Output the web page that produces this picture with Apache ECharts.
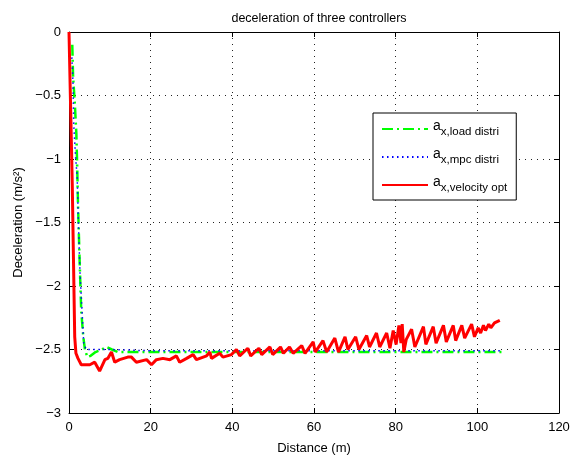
<!DOCTYPE html>
<html>
<head>
<meta charset="utf-8">
<script src="https://cdn.jsdelivr.net/npm/echarts@6/dist/echarts.min.js"></script>
<style>
  html, body { margin: 0; padding: 0; background: #fff; }
  #chart { width: 574px; height: 460px; }
</style>
</head>
<body>
<div id="chart"></div>
<script>
// distance (m) / deceleration (m/s^2)
var distLoad = [0.8, 1.0, 1.4, 1.8, 2.0, 2.2, 2.6, 3.0, 3.5, 3.9, 4.5, 5.3, 6.5, 8.0, 9.2, 10.5, 12.0, 20, 30, 40, 50, 60, 70, 80, 90, 100, 106];
var accLoad = [-0.1, -0.35, -0.55, -0.8, -1.05, -1.35, -1.8, -2.2, -2.4, -2.5, -2.56, -2.55, -2.52, -2.5, -2.48, -2.5, -2.52, -2.52, -2.52, -2.52, -2.52, -2.52, -2.52, -2.52, -2.52, -2.52, -2.52];

var distMpc = [0.7, 1.0, 1.15, 1.6, 2.0, 2.3, 2.7, 3.2, 3.6, 4.2, 6, 10, 20, 30, 40, 50, 60, 70, 80, 90, 100, 106];
var accMpc = [-0.2, -0.41, -0.72, -0.98, -1.14, -1.5, -1.9, -2.2, -2.45, -2.5, -2.5, -2.5, -2.51, -2.51, -2.51, -2.51, -2.51, -2.51, -2.51, -2.51, -2.51, -2.51];

var distVel = [0, 0.4, 0.8, 1.1, 1.4, 1.7, 2.2, 3.0, 4.0, 5.1, 6.3, 7.5, 8.8, 9.5, 10.4, 11.2, 12.4, 14.4, 15.3, 16.5,
  19.0, 20.2, 21.4, 23.0, 24.7, 26.3, 27.1, 28.8, 30.4, 31.2, 33.7, 34.5, 34.9, 36.9, 37.7, 39.8, 41.0, 41.8, 43.8, 44.5,
  46.5, 47.2, 49.2, 49.9, 51.8, 52.5, 54.0, 54.9, 57.0, 57.8, 59.8, 60.3, 62.2, 63.1, 65.1, 66.0, 67.6, 68.3, 70.2, 71.0,
  72.9, 73.6, 75.3, 76.1, 77.8, 78.6, 79.4, 80.1, 80.8, 81.3, 81.6, 82.0, 82.6, 83.9, 84.7, 86.8, 87.4, 89.2, 89.9, 91.7,
  92.4, 94.1, 94.7, 96.2, 96.9, 98.6, 99.3, 100.2, 100.8, 101.5, 102.0, 102.8, 103.3, 104.2, 105.5];
var accVel = [0, -0.6, -1.2, -1.8, -2.4, -2.53, -2.57, -2.62, -2.62, -2.62, -2.6, -2.67, -2.58, -2.57, -2.52, -2.6, -2.58, -2.56, -2.56, -2.6,
  -2.58, -2.62, -2.58, -2.57, -2.58, -2.55, -2.6, -2.57, -2.54, -2.58, -2.55, -2.52, -2.57, -2.53, -2.56, -2.54, -2.5, -2.55, -2.49, -2.55,
  -2.49, -2.54, -2.48, -2.54, -2.48, -2.53, -2.48, -2.53, -2.47, -2.53, -2.44, -2.52, -2.43, -2.52, -2.41, -2.52, -2.40, -2.50, -2.40, -2.50,
  -2.39, -2.48, -2.37, -2.48, -2.37, -2.49, -2.35, -2.46, -2.31, -2.45, -2.30, -2.52, -2.42, -2.34, -2.48, -2.32, -2.46, -2.32, -2.45, -2.31,
  -2.44, -2.31, -2.43, -2.31, -2.41, -2.30, -2.40, -2.33, -2.37, -2.31, -2.35, -2.30, -2.33, -2.29, -2.27];

var seriesNames = ['x,load distri', 'x,mpc distri', 'x,velocity opt'];
var xTicks = [0, 120, 20];     // min, max, step
var yTicks = [-3, 0, 0.5];

function pairs(xs, ys) {
  return xs.map(function (x, i) { return [x, ys[i]]; });
}

var font = 'Liberation Sans, Arial, Helvetica, sans-serif';
var gridLine = { show: true, lineStyle: { color: '#222', width: 1, type: [1, 5] } };
var tick = { show: true, inside: true, length: 5, lineStyle: { color: '#000' } };
var axLine = { show: true, onZero: false, lineStyle: { color: '#000', width: 1 } };
function minus(v) { return String(v).replace('-', '\u2212'); }

var myChart = echarts.init(document.getElementById('chart'), null, { renderer: 'canvas' });
var option = {
  backgroundColor: '#fff',
  animation: false,
  textStyle: { fontFamily: font },
  title: {
    text: 'deceleration of three controllers',
    left: 314, top: 7, textAlign: 'center',
    textStyle: { fontSize: 12.5, fontWeight: 'normal', color: '#000', fontFamily: font }
  },
  grid: { left: 69, right: 15, top: 32, bottom: 43 },
  legend: {
    orient: 'vertical',
    left: 373, top: 113,
    padding: [6, 9, 6, 8],
    itemGap: 9,
    itemWidth: 46, itemHeight: 14,
    borderColor: '#000', borderWidth: 1,
    backgroundColor: '#fff',
    itemStyle: { opacity: 0 },
    data: seriesNames,
    formatter: function (name) { return '{a|a}{s|' + name + '}'; },
    textStyle: {
      color: '#000', fontFamily: font,
      rich: {
        a: { fontSize: 14, color: '#000', fontFamily: font, padding: [0, 0, 6, 0] },
        s: { fontSize: 11.5, color: '#000', fontFamily: font, padding: [6, 0, 0, 0] }
      }
    }
  },
  xAxis: [{
    type: 'value', min: xTicks[0], max: xTicks[1], interval: xTicks[2],
    name: 'Distance (m)', nameLocation: 'middle', nameGap: 29,
    nameTextStyle: { fontSize: 13, color: '#000', fontFamily: font },
    axisLine: axLine, axisTick: tick, splitLine: gridLine,
    axisLabel: { fontSize: 13, color: '#000', margin: 8, fontFamily: font }
  }, {
    type: 'value', position: 'top', min: xTicks[0], max: xTicks[1], interval: xTicks[2],
    axisLine: axLine, axisTick: tick, splitLine: { show: false }, axisLabel: { show: false }
  }],
  yAxis: [{
    type: 'value', min: yTicks[0], max: yTicks[1], interval: yTicks[2],
    name: 'Deceleration (m/s\u00B2)', nameLocation: 'middle', nameGap: 40,
    nameTextStyle: { fontSize: 13, color: '#000', fontFamily: font },
    axisLine: axLine, axisTick: tick, splitLine: gridLine,
    axisLabel: { fontSize: 13, color: '#000', margin: 8, fontFamily: font, formatter: minus }
  }, {
    type: 'value', position: 'right', min: yTicks[0], max: yTicks[1], interval: yTicks[2],
    axisLine: axLine, axisTick: tick, splitLine: { show: false }, axisLabel: { show: false }
  }],
  series: [{
    name: seriesNames[0], type: 'line', symbol: 'none', data: pairs(distLoad, accLoad),
    lineStyle: { color: '#00ff00', width: 2.5, type: [11, 4, 2, 4] },
    itemStyle: { color: '#00ff00' }
  }, {
    name: seriesNames[1], type: 'line', symbol: 'none', data: pairs(distMpc, accMpc),
    lineStyle: { color: '#0000ff', width: 1.5, type: [1.5, 3.5] },
    itemStyle: { color: '#0000ff' }
  }, {
    name: seriesNames[2], type: 'line', symbol: 'none', data: pairs(distVel, accVel),
    lineStyle: { color: '#ff0000', width: 3 },
    itemStyle: { color: '#ff0000' }
  }]
};
myChart.setOption(option);
</script>
</body>
</html>
